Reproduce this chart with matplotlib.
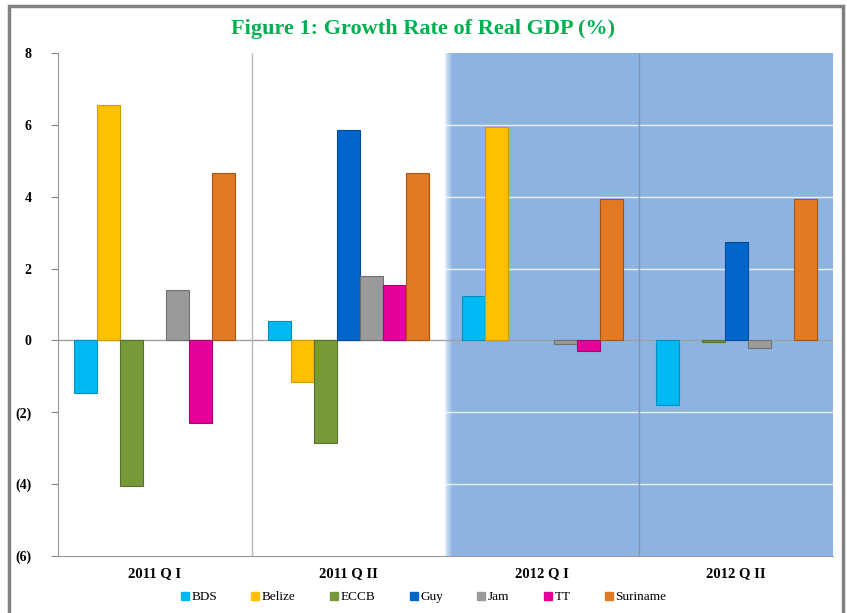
import matplotlib
matplotlib.use("Agg")
import matplotlib.pyplot as plt
from matplotlib.patches import Rectangle
import numpy as np

quarters = ["2011 Q I", "2011 Q II", "2012 Q I", "2012 Q II"]
series = ["BDS", "Belize", "ECCB", "Guy", "Jam", "TT", "Suriname"]
nan = np.nan
bds = [-1.45, 0.55, 1.25, -1.8]
belize = [6.55, -1.15, 5.95, nan]
eccb = [-4.05, -2.85, nan, -0.05]
guy = [nan, 5.85, nan, 2.75]
jam = [1.4, 1.8, -0.1, -0.2]
tt = [-2.3, 1.55, -0.3, nan]
suriname = [4.65, 4.65, 3.95, 3.95]
values = [bds, belize, eccb, guy, jam, tt, suriname]
colors = ["#00B9F2", "#FFC000", "#77993A", "#0066CC", "#9A9A9A", "#E6009A", "#E27A25"]
edges = ["#0090C0", "#D09A00", "#55702A", "#004C99", "#707070", "#A8006F", "#A85510"]

serif = "Liberation Serif"
fig = plt.figure(figsize=(8.47, 6.13), dpi=100)
ax = fig.add_axes([0.0685, 0.093, 0.915, 0.8205])

x = np.arange(len(quarters))
w = 0.1186
ax.set_xlim(-0.5, 3.5)
ax.set_ylim(-6, 8)

# blue shading for 2012
ax.axvspan(1.5, 3.5, color="#8DB3E2", zorder=0)
for k in range(6):
    ax.axvspan(1.5 + k * 0.006, 1.5 + (k + 1) * 0.006, color="white",
               alpha=0.6 * (1 - k / 6), lw=0, zorder=0.5)

for yv in [-4, -2, 2, 4, 6]:
    ax.axhline(yv, color="white", lw=1, alpha=0.8, zorder=1)
ax.axhline(0, color="#A0A0A0", lw=1, zorder=1)
for xv in [0.5, 2.5]:
    ax.axvline(xv, color="#B8B8B8", lw=1, zorder=1)
ax.axvline(2.5, color="#7A96BE", lw=1, zorder=1.1)

for i, name in enumerate(series):
    ax.bar(x + (i - 3) * w, values[i], width=w, color=colors[i],
           edgecolor=edges[i], lw=0.8, label=name, zorder=2)

ax.set_yticks(range(-6, 9, 2))
ax.set_yticklabels(["(6)", "(4)", "(2)", "0", "2", "4", "6", "8"],
                   fontfamily=serif, fontweight="bold", fontsize=10)
ax.set_xticks(x)
ax.set_xticklabels(quarters, fontfamily=serif, fontweight="bold", fontsize=10.5)
ax.tick_params(axis="x", length=0, pad=8)
ax.tick_params(axis="y", length=5, color="#888888", pad=14)
for s in ["top", "right"]:
    ax.spines[s].set_visible(False)
ax.spines["left"].set_color("#999999")
ax.spines["bottom"].set_color("#999999")

fig.text(0.5, 0.952, "Figure 1: Growth Rate of Real GDP (%)", ha="center", va="center",
         color="#00B050", fontfamily=serif, fontweight="bold", fontsize=16)

handles = [plt.Line2D([], [], marker="s", ls="", color=c, markersize=6) for c in colors]
fig.legend(handles, series, loc="center", bbox_to_anchor=(0.5, 0.026), ncol=7,
           frameon=False, handlelength=0.6, handletextpad=0.2, columnspacing=2.6,
           prop={"family": serif, "size": 9.5})

# outer frame
fig.patches.append(Rectangle((0.011, -0.01), 0.984, 1.0, transform=fig.transFigure,
                             fill=False, edgecolor="#808080", lw=2.5))

fig.savefig("out.png", dpi=100)
